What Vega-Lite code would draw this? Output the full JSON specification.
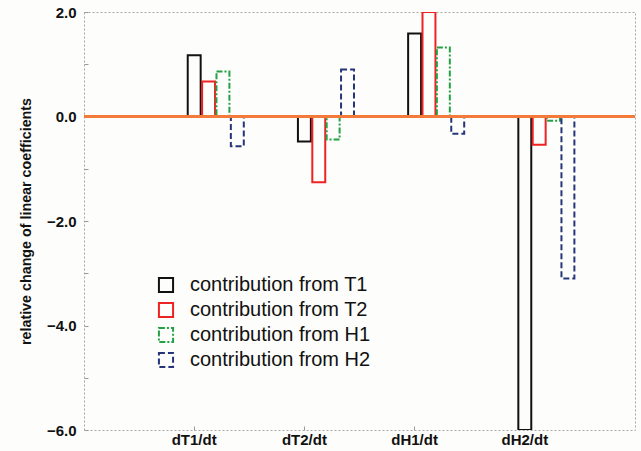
{
  "$schema": "https://vega.github.io/schema/vega-lite/v6.json",
  "width": 551,
  "height": 418,
  "autosize": {"type": "none"},
  "padding": {"left": 84, "top": 12, "right": 6, "bottom": 21},
  "background": "#fdfdfb",
  "config": {
    "view": {"stroke": "#a8a8a8", "strokeWidth": 1, "strokeDash": [2, 2], "fill": "#fdfdfb"},
    "font": "Liberation Sans"
  },
  "data": {
    "values": [
      {"rate": "dT1/dt", "series": "T1", "value": 1.17},
      {"rate": "dT1/dt", "series": "T2", "value": 0.67},
      {"rate": "dT1/dt", "series": "H1", "value": 0.86},
      {"rate": "dT1/dt", "series": "H2", "value": -0.57},
      {"rate": "dT2/dt", "series": "T1", "value": -0.48},
      {"rate": "dT2/dt", "series": "T2", "value": -1.26},
      {"rate": "dT2/dt", "series": "H1", "value": -0.44},
      {"rate": "dT2/dt", "series": "H2", "value": 0.9},
      {"rate": "dH1/dt", "series": "T1", "value": 1.59},
      {"rate": "dH1/dt", "series": "T2", "value": 2.0},
      {"rate": "dH1/dt", "series": "H1", "value": 1.32},
      {"rate": "dH1/dt", "series": "H2", "value": -0.33},
      {"rate": "dH2/dt", "series": "T1", "value": -6.0},
      {"rate": "dH2/dt", "series": "T2", "value": -0.54},
      {"rate": "dH2/dt", "series": "H1", "value": -0.08},
      {"rate": "dH2/dt", "series": "H2", "value": -3.1}
    ]
  },
  "layer": [
    {
      "mark": {"type": "bar", "fill": "#fdfdfb", "strokeWidth": 2, "clip": true},
      "encoding": {
        "x": {
          "field": "rate",
          "type": "nominal",
          "sort": ["dT1/dt", "dT2/dt", "dH1/dt", "dH2/dt"],
          "scale": {"paddingInner": 0.1, "paddingOuter": 0.55},
          "axis": {
            "title": null,
            "labelAngle": 0,
            "labelFont": "Liberation Sans",
            "labelFontSize": 15,
            "labelFontWeight": "bold",
            "labelColor": "#111",
            "domain": false,
            "tickSize": -4,
            "tickColor": "#999",
            "labelPadding": 6
          }
        },
        "xOffset": {
          "field": "series",
          "type": "nominal",
          "scale": {"domain": ["p1", "p2", "p3", "T1", "T2", "H1", "H2"], "paddingInner": 0.1}
        },
        "y": {
          "field": "value",
          "type": "quantitative",
          "scale": {"domain": [-6, 2], "nice": false, "zero": false},
          "axis": {
            "title": "relative change of linear coefficients",
            "titleFont": "Liberation Sans",
            "titleFontSize": 14.3,
            "titleFontWeight": "bold",
            "titleColor": "#111",
            "titlePadding": 13,
            "values": [-6, -5, -4, -3, -2, -1, 0, 1, 2],
            "labelExpr": "datum.value % 2 == 0 ? format(datum.value, '.1f') : ''",
            "labelFont": "Liberation Sans",
            "labelFontSize": 15,
            "labelFontWeight": "bold",
            "labelColor": "#111",
            "grid": false,
            "domain": false,
            "tickSize": -4,
            "tickColor": "#999",
            "labelPadding": 12
          }
        },
        "stroke": {
          "field": "series",
          "type": "nominal",
          "scale": {"domain": ["T1", "T2", "H1", "H2"], "range": ["#111111", "#ee2222", "#22a244", "#26357a"]},
          "legend": {
            "title": null,
            "orient": "none",
            "legendX": 72,
            "legendY": 263,
            "padding": 0,
            "symbolType": "square",
            "symbolSize": 200,
            "symbolStrokeWidth": 2,
            "symbolFillColor": "#fdfdfb",
            "labelFont": "Liberation Sans",
            "labelFontSize": 20,
            "labelColor": "#111",
            "labelOffset": 14,
            "labelLimit": 300,
            "rowPadding": 1,
            "labelExpr": "'contribution from ' + datum.label"
          }
        },
        "strokeDash": {
          "field": "series",
          "type": "nominal",
          "scale": {"domain": ["T1", "T2", "H1", "H2"], "range": [[1, 0], [1, 0], [6, 2, 2, 2], [6, 3]]},
          "legend": {
            "title": null,
            "orient": "none",
            "legendX": 72,
            "legendY": 263,
            "padding": 0,
            "symbolType": "square",
            "symbolSize": 200,
            "symbolStrokeWidth": 2,
            "symbolFillColor": "#fdfdfb",
            "labelFont": "Liberation Sans",
            "labelFontSize": 20,
            "labelColor": "#111",
            "labelOffset": 14,
            "labelLimit": 300,
            "rowPadding": 1,
            "labelExpr": "'contribution from ' + datum.label"
          }
        }
      }
    },
    {
      "mark": {"type": "rule", "color": "#f47a3a", "strokeWidth": 3},
      "encoding": {"y": {"datum": 0}}
    }
  ]
}
